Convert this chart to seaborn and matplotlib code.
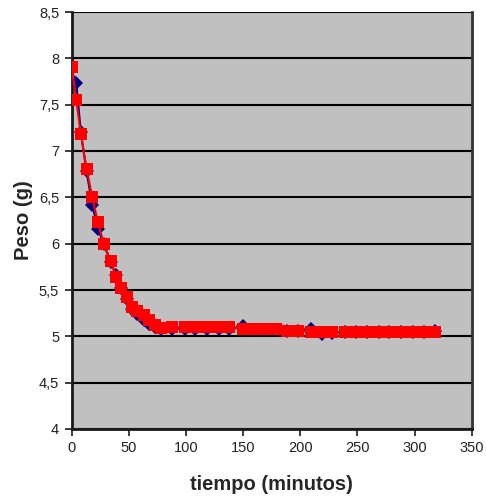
import matplotlib
matplotlib.use("Agg")
import matplotlib.pyplot as plt
import seaborn as sns
import pandas as pd
from matplotlib.ticker import FuncFormatter

# Data (time in minutes, weight in grams)
tiempo = [0, 4, 8, 13, 18, 23, 28, 34, 39, 43, 48, 53, 57, 63, 68, 73, 78,
          88, 99, 108, 118, 129, 138, 150, 159, 168, 179, 188, 198, 209, 219,
          228, 239, 249, 258, 269, 278, 288, 299, 308, 318]
peso_rojo = [7.91, 7.55, 7.18, 6.81, 6.50, 6.23, 6.00, 5.81, 5.64, 5.52, 5.42,
             5.32, 5.27, 5.23, 5.18, 5.12, 5.09,
             5.10, 5.10, 5.10, 5.10, 5.10, 5.10, 5.08, 5.08, 5.08, 5.08, 5.06,
             5.06, 5.05, 5.05, 5.05, 5.05, 5.05, 5.05, 5.05, 5.05, 5.05, 5.05,
             5.05, 5.05]
peso_azul = [7.77, 7.73, 7.20, 6.78, 6.42, 6.16, 6.00, 5.80, 5.66, 5.52, 5.40,
             5.30, 5.24, 5.18, 5.13, 5.10, 5.08,
             5.08, 5.08, 5.08, 5.08, 5.08, 5.08, 5.11, 5.07, 5.07, 5.07, 5.06,
             5.06, 5.08, 5.03, 5.04, 5.05, 5.05, 5.05, 5.05, 5.05, 5.05, 5.05,
             5.05, 5.06]
y_ticks = [4, 4.5, 5, 5.5, 6, 6.5, 7, 7.5, 8, 8.5]
x_ticks = [0, 50, 100, 150, 200, 250, 300, 350]

df = pd.DataFrame({"tiempo": tiempo, "rojo": peso_rojo, "azul": peso_azul})

sns.set_theme(style="white")
plt.rcParams['font.family'] = ['Liberation Sans', 'DejaVu Sans']

fig = plt.figure(figsize=(4.86, 4.97), dpi=100)
ax = fig.add_axes([71.7/486, 1 - 429/497, 400/486, 417/497])
ax.set_facecolor("#C0C0C0")

sns.lineplot(data=df, x="tiempo", y="azul", ax=ax, color="#000080",
             marker="D", markersize=7, markeredgewidth=0, linewidth=1.5,
             zorder=3)
sns.lineplot(data=df, x="tiempo", y="rojo", ax=ax, color="#FF0000",
             marker="s", markersize=8.3, markeredgewidth=0, linewidth=1.5,
             zorder=4)

ax.set_xlim(0, 350)
ax.set_ylim(4, 8.5)
ax.set_xticks(x_ticks)
ax.set_yticks(y_ticks)
ax.yaxis.set_major_formatter(FuncFormatter(lambda v, p: (f"{v:g}").replace(".", ",")))
ax.grid(axis="y", color="black", linewidth=1.5, zorder=1)
ax.grid(axis="x", visible=False)
ax.set_axisbelow(True)

for s in ["left", "bottom"]:
    ax.spines[s].set_color("#1a1a1a")
    ax.spines[s].set_linewidth(2)
ax.spines["top"].set_visible(False)
ax.spines["right"].set_color("#333333")
ax.spines["right"].set_linewidth(2)

ax.tick_params(axis="both", direction="out", length=5, width=1.2,
               color="#1a1a1a", labelsize=10.5, labelcolor="#222222",
               left=True, bottom=True, pad=4)

ax.set_xlabel("tiempo (minutos)", fontsize=14.5, fontweight="bold", labelpad=14)
ax.set_ylabel("Peso (g)", fontsize=14.5, fontweight="bold", labelpad=4)

fig.savefig("out.png", dpi=100)
